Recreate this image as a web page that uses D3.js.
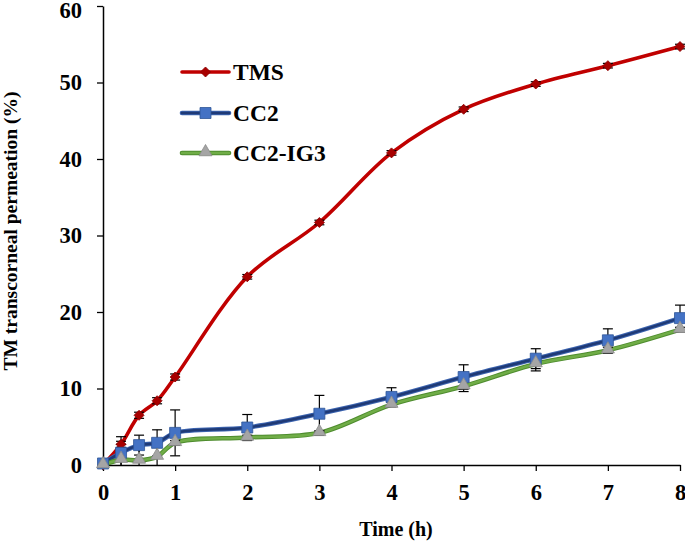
<!DOCTYPE html>
<html>
<head>
<meta charset="utf-8">
<script src="https://cdn.jsdelivr.net/npm/d3@7"></script>
<style>
  html, body { margin: 0; padding: 0; background: #ffffff; }
  svg { display: block; }
</style>
</head>
<body>
<svg id="chart" width="685" height="544"></svg>
<script>
// ---- data ----
const times = [0, 0.25, 0.5, 0.75, 1, 2, 3, 4, 5, 6, 7, 8];
const tmsValues = [0, 2.7, 6.5, 8.4, 11.5, 24.6, 31.7, 40.8, 46.5, 49.8, 52.2, 54.7];
const tmsErrors = [0, 0.4, 0.4, 0.4, 0.4, 0.3, 0.3, 0.3, 0.3, 0.3, 0.3, 0.3];
const cc2Values = [0.2, 1.6, 2.6, 2.9, 4.2, 4.9, 6.7, 8.9, 11.5, 13.9, 16.3, 19.2];
const cc2Errors = [0, 2.1, 1.3, 1.7, 3.0, 1.7, 2.4, 1.2, 1.6, 1.3, 1.5, 1.7];
const ig3Values = [0, 0.7, 0.6, 1.1, 2.9, 3.6, 4.2, 7.9, 10.3, 13.2, 15.0, 17.7];
const ig3Errors = [0, 2.0, 2.4, 2.3, 0.3, 0.3, 0.3, 0.3, 0.7, 0.9, 0.4, 0.3];
const seriesNames = ["TMS", "CC2", "CC2-IG3"];
const xTicks = [0, 1, 2, 3, 4, 5, 6, 7, 8];
const yTicks = [0, 10, 20, 30, 40, 50, 60];
const xTitle = "Time (h)";
const yTitle = "TM transcorneal permeation (%)";

// ---- layout ----
const svg = d3.select("#chart");
const font = "'Liberation Serif', 'Times New Roman', serif";
const x = d3.scaleLinear().domain([0, 8]).range([103, 680]);
const y = d3.scaleLinear().domain([0, 60]).range([465, 6]);

const series = [
  { name: seriesNames[0], values: tmsValues, errors: tmsErrors, shape: "diamond",
    outer: "#C00000", outerW: 3.6, inner: null, innerW: 0, fill: "#A80000", stroke: "#8a0000", size: 10 },
  { name: seriesNames[1], values: cc2Values, errors: cc2Errors, shape: "square",
    outer: "#3C64B0", outerW: 4.6, inner: "#1F3A76", innerW: 2.6, fill: "#4472C4", stroke: "#2F5597", size: 11 },
  { name: seriesNames[2], values: ig3Values, errors: ig3Errors, shape: "triangle",
    outer: "#4E8C2E", outerW: 4.6, inner: "#70AD47", innerW: 2.6, fill: "#A5A5A5", stroke: "#8C8C8C", size: 13 }
];

// ---- axes ----
const yAxis = d3.axisLeft(y).tickValues(yTicks).tickSize(6).tickPadding(15).tickSizeOuter(0);
const xAxis = d3.axisBottom(x).tickValues(xTicks).tickSize(6).tickPadding(13).tickSizeOuter(0);

const gy = svg.append("g").attr("transform", "translate(103,0)").call(yAxis);
const gx = svg.append("g").attr("transform", "translate(0,465)").call(xAxis);
[gx, gy].forEach(g => {
  g.select(".domain").attr("stroke", "#000").attr("stroke-width", 1.5);
  g.selectAll(".tick line").attr("stroke", "#000").attr("stroke-width", 1.3);
  g.selectAll(".tick text").attr("font-family", font).attr("font-weight", "bold")
    .attr("font-size", 22.5).attr("fill", "#000");
});
gx.selectAll(".tick text").attr("dy", "0.71em");
gy.selectAll(".tick text").attr("dy", d => d === 60 ? "0.5em" : "0.32em");

svg.append("text").attr("x", 396).attr("y", 536).attr("text-anchor", "middle")
  .attr("font-family", font).attr("font-weight", "bold").attr("font-size", 20).text(xTitle);
svg.append("text").attr("transform", "translate(17,231) rotate(-90)").attr("text-anchor", "middle")
  .attr("font-family", font).attr("font-weight", "bold").attr("font-size", 19.5).text(yTitle);

// ---- marks ----
const line = d3.line().x((d, i) => x(times[i])).y(d => y(d)).curve(d3.curveCatmullRom.alpha(0.5));
const symbolFor = s => {
  if (s.shape === "diamond") return d3.symbol().type(d3.symbolSquare).size(s.size * s.size * 0.5)();
  if (s.shape === "square") return d3.symbol().type(d3.symbolSquare).size(s.size * s.size)();
  return d3.symbol().type(d3.symbolTriangle).size(s.size * s.size * 0.433)();
};

series.forEach(s => {
  svg.append("path").attr("d", line(s.values)).attr("fill", "none")
    .attr("stroke", s.outer).attr("stroke-width", s.outerW).attr("stroke-linejoin", "round");
  if (s.inner) {
    svg.append("path").attr("d", line(s.values)).attr("fill", "none")
      .attr("stroke", s.inner).attr("stroke-width", s.innerW).attr("stroke-linejoin", "round");
  }
});

// error bars
series.forEach(s => {
  const g = svg.append("g");
  s.values.forEach((v, i) => {
    const e = s.errors[i];
    if (!e) return;
    const cx = x(times[i]);
    const hi = v + e;
    const lo = Math.max(0, v - e);
    g.append("line").attr("x1", cx).attr("x2", cx).attr("y1", y(lo)).attr("y2", y(hi))
      .attr("stroke", "#000").attr("stroke-width", 1.2);
    g.append("line").attr("x1", cx - 5).attr("x2", cx + 5).attr("y1", y(hi)).attr("y2", y(hi))
      .attr("stroke", "#000").attr("stroke-width", 1.2);
    if (v - e > 0) {
      g.append("line").attr("x1", cx - 5).attr("x2", cx + 5).attr("y1", y(lo)).attr("y2", y(lo))
        .attr("stroke", "#000").attr("stroke-width", 1.2);
    }
  });
});

// markers
series.forEach(s => {
  const p = symbolFor(s);
  s.values.forEach((v, i) => {
    const cx = x(times[i]), cy = y(v);
    let tr = `translate(${cx},${cy})`;
    if (s.shape === "diamond") tr += " rotate(45)";
    if (s.shape === "triangle") tr = `translate(${cx},${cy - 1})`;
    svg.append("path").attr("d", p).attr("transform", tr)
      .attr("fill", s.fill).attr("stroke", s.stroke).attr("stroke-width", 0.8);
  });
});

// ---- legend ----
const legendY = [72, 113, 153];
series.forEach((s, k) => {
  const ly = legendY[k];
  svg.append("line").attr("x1", 182).attr("x2", 229).attr("y1", ly).attr("y2", ly)
    .attr("stroke", s.outer).attr("stroke-width", s.outerW).attr("stroke-linecap", "round");
  if (s.inner) {
    svg.append("line").attr("x1", 182).attr("x2", 229).attr("y1", ly).attr("y2", ly)
      .attr("stroke", s.inner).attr("stroke-width", s.innerW).attr("stroke-linecap", "round");
  }
  let tr = `translate(205.5,${ly})`;
  if (s.shape === "diamond") tr += " rotate(45)";
  if (s.shape === "triangle") tr = `translate(205.5,${ly - 1})`;
  svg.append("path").attr("d", symbolFor(s)).attr("transform", tr)
    .attr("fill", s.fill).attr("stroke", s.stroke).attr("stroke-width", 0.8);
  svg.append("text").attr("x", 233).attr("y", ly + 8)
    .attr("font-family", font).attr("font-weight", "bold").attr("font-size", 23.5).text(s.name);
});
</script>
</body>
</html>
